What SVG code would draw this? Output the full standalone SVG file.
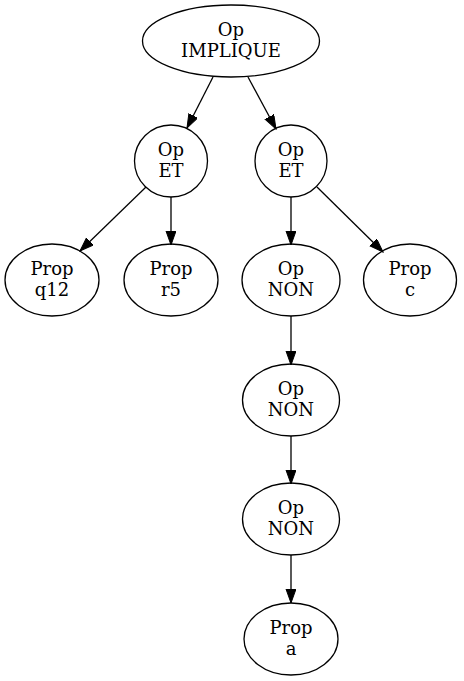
<svg xmlns="http://www.w3.org/2000/svg" width="464" height="681" viewBox="0 0 464 681">
<style>
.n ellipse{fill:none;stroke:#000;stroke-width:1.3}
.n text{font-family:"DejaVu Serif",serif;font-size:18px;text-anchor:middle;fill:#000}
.e line{stroke:#000;stroke-width:1.3;marker-end:url(#ah)}
</style>
<defs>
<marker id="ah" markerUnits="userSpaceOnUse" markerWidth="15" markerHeight="11" refX="14" refY="5" orient="auto" viewBox="0 0 15 11">
<path d="M0,0 L14,5 L0,10 z" fill="#000" stroke="#000" stroke-width="1"/>
</marker>
</defs>
<rect width="464" height="681" fill="#fff"/>
<g id="edges" class="e">
<line x1="213" y1="77" x2="187" y2="128"/>
<line x1="248" y1="77" x2="276" y2="129"/>
<line x1="146" y1="187" x2="80" y2="251"/>
<line x1="171" y1="197" x2="171" y2="245"/>
<line x1="291" y1="197" x2="291" y2="245"/>
<line x1="317" y1="187" x2="383" y2="252"/>
<line x1="291" y1="316" x2="291" y2="365"/>
<line x1="291" y1="436" x2="291" y2="484"/>
<line x1="291" y1="555" x2="291" y2="603"/>
</g>
<g id="n0" class="n"><ellipse cx="231" cy="41" rx="88.5" ry="36"/><text x="231" y="35.5">Op</text><text x="231" y="56.5">IMPLIQUE</text></g>
<g id="n1" class="n"><ellipse cx="171" cy="161" rx="36.5" ry="36"/><text x="171" y="155.5">Op</text><text x="171" y="176.5">ET</text></g>
<g id="n2" class="n"><ellipse cx="291" cy="161" rx="36" ry="36"/><text x="291" y="155.5">Op</text><text x="291" y="176.5">ET</text></g>
<g id="n3" class="n"><ellipse cx="52" cy="280" rx="47" ry="36"/><text x="52" y="274.5">Prop</text><text x="52" y="295.5">q12</text></g>
<g id="n4" class="n"><ellipse cx="171" cy="280" rx="47" ry="36"/><text x="171" y="274.5">Prop</text><text x="171" y="295.5">r5</text></g>
<g id="n5" class="n"><ellipse cx="291" cy="280" rx="49" ry="36"/><text x="291" y="274.5">Op</text><text x="291" y="295.5">NON</text></g>
<g id="n6" class="n"><ellipse cx="410" cy="280" rx="46.5" ry="36"/><text x="410" y="274.5">Prop</text><text x="410" y="295.5">c</text></g>
<g id="n7" class="n"><ellipse cx="291" cy="400" rx="48.5" ry="36"/><text x="291" y="394.5">Op</text><text x="291" y="415.5">NON</text></g>
<g id="n8" class="n"><ellipse cx="291" cy="519" rx="48.5" ry="36"/><text x="291" y="513.5">Op</text><text x="291" y="534.5">NON</text></g>
<g id="n9" class="n"><ellipse cx="291" cy="639" rx="47" ry="36"/><text x="291" y="633.5">Prop</text><text x="291" y="654.5">a</text></g>
</svg>
